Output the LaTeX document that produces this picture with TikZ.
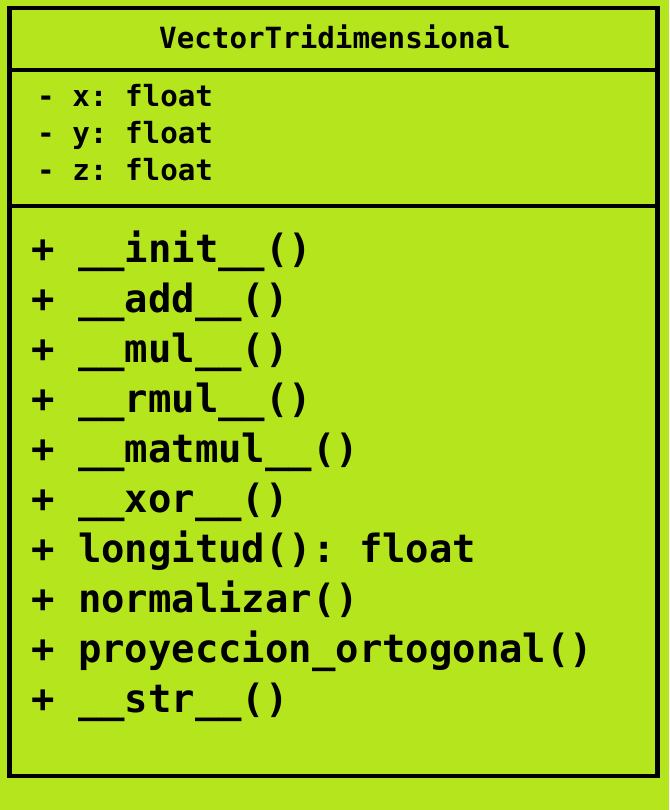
\documentclass[tikz,border=0pt]{standalone}
\usepackage{fontspec}
\setmonofont{DejaVu Sans Mono}
\definecolor{lime}{RGB}{181,230,29}
\begin{document}
\begin{tikzpicture}[x=1pt,y=-1pt,
  frame/.style={draw=black,line width=4.2pt},
  headtext/.style={inner sep=0pt,anchor=base,font=\ttfamily\bfseries\fontsize{29.2}{35}\selectfont},
  attrtext/.style={inner sep=0pt,anchor=base west,font=\ttfamily\bfseries\fontsize{29.2}{35}\selectfont},
  methtext/.style={inner sep=0pt,anchor=base west,font=\ttfamily\bfseries\fontsize{38.9}{46}\selectfont}]
  % page background
  \fill[lime] (0,0) rectangle (669,810);
  \useasboundingbox (0,0) rectangle (669,810);
  % class box with its two separators
  \coordinate (tl) at (9.5,8);
  \coordinate (br) at (657.5,776);
  \draw[frame,fill=lime] (tl) rectangle (br);
  \coordinate (s1l) at (9.5,69.7);  \coordinate (s1r) at (657.5,69.7);
  \coordinate (s2l) at (9.5,206.3); \coordinate (s2r) at (657.5,206.3);
  \draw[frame] (s1l) -- (s1r);
  \draw[frame] (s2l) -- (s2r);
  % class name
  \node[headtext] (name) at (335,48.3) {VectorTridimensional};
  % attributes
  \node[attrtext] (ax) at (37,107) {- x: float};
  \node[attrtext] (ay) at (37,144) {- y: float};
  \node[attrtext] (az) at (37,181) {- z: float};
  % methods
  \node[methtext] (m1)  at (31,262) {+ \_\_init\_\_()};
  \node[methtext] (m2)  at (31,312) {+ \_\_add\_\_()};
  \node[methtext] (m3)  at (31,362) {+ \_\_mul\_\_()};
  \node[methtext] (m4)  at (31,412) {+ \_\_rmul\_\_()};
  \node[methtext] (m5)  at (31,462) {+ \_\_matmul\_\_()};
  \node[methtext] (m6)  at (31,512) {+ \_\_xor\_\_()};
  \node[methtext] (m7)  at (31,562) {+ longitud(): float};
  \node[methtext] (m8)  at (31,612) {+ normalizar()};
  \node[methtext] (m9)  at (31,662) {+ proyeccion\_ortogonal()};
  \node[methtext] (m10) at (31,712) {+ \_\_str\_\_()};
\end{tikzpicture}
\end{document}
